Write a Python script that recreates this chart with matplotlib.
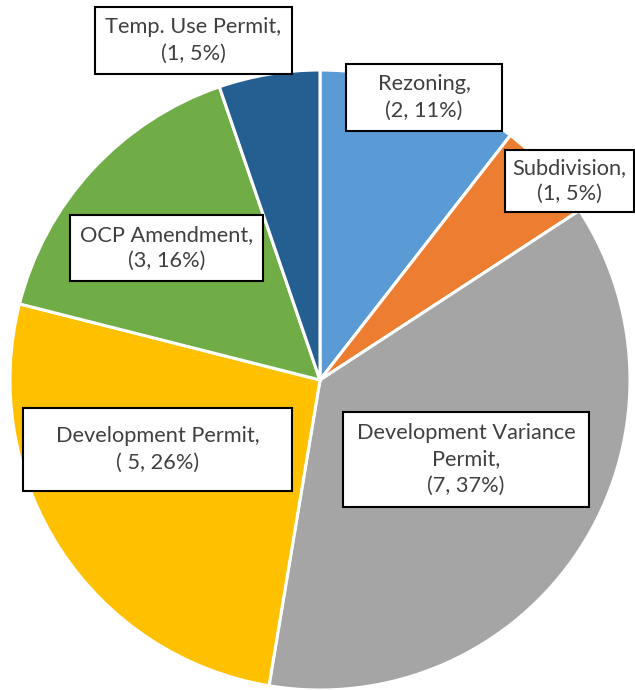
import matplotlib.pyplot as plt
from matplotlib.patches import Rectangle

# data
categories = ["Rezoning", "Subdivision", "Development Variance\nPermit",
              "Development Permit", "OCP Amendment", "Temp. Use Permit"]
counts = [2, 1, 7, 5, 3, 1]
pct_labels = ["(2, 11%)", "(1, 5%)", "(7, 37%)", "( 5, 26%)", "(3, 16%)", "(1, 5%)"]
colors = ["#5B9BD5", "#ED7D31", "#A5A5A5", "#FFC000", "#70AD47", "#255E91"]

W, H = 635, 690
# label boxes in pixel coords: x0, y0, x1, y1
boxes = [
    (346, 64, 502, 131),
    (505, 150, 634, 212),
    (343, 412, 589, 507),
    (23, 408, 292, 491),
    (70, 215, 263, 281),
    (95, 7, 292, 74),
]

plt.rcParams["font.family"] = ["Lato", "DejaVu Sans"]

fig = plt.figure(figsize=(W / 100, H / 100), dpi=100)
ax = fig.add_axes([0, 0, 1, 1])
ax.set_xlim(0, W)
ax.set_ylim(0, H)
ax.set_aspect("equal")
ax.axis("off")

ax.pie(counts, colors=colors, startangle=90, counterclock=False,
       center=(320, H - 380), radius=310,
       wedgeprops=dict(edgecolor="white", linewidth=2.2))
ax.set_xlim(0, W)
ax.set_ylim(0, H)

for cat, pl, (x0, y0, x1, y1) in zip(categories, pct_labels, boxes):
    ax.add_patch(Rectangle((x0, H - y1), x1 - x0, y1 - y0, facecolor="white",
                           edgecolor="black", linewidth=1.5, zorder=3))
    ax.text((x0 + x1) / 2, H - (y0 + y1) / 2, cat + ",\n" + pl, ha="center",
            va="center", fontsize=15.7, color="#404040", linespacing=1.38, zorder=4)

fig.savefig("out.png", dpi=100)
